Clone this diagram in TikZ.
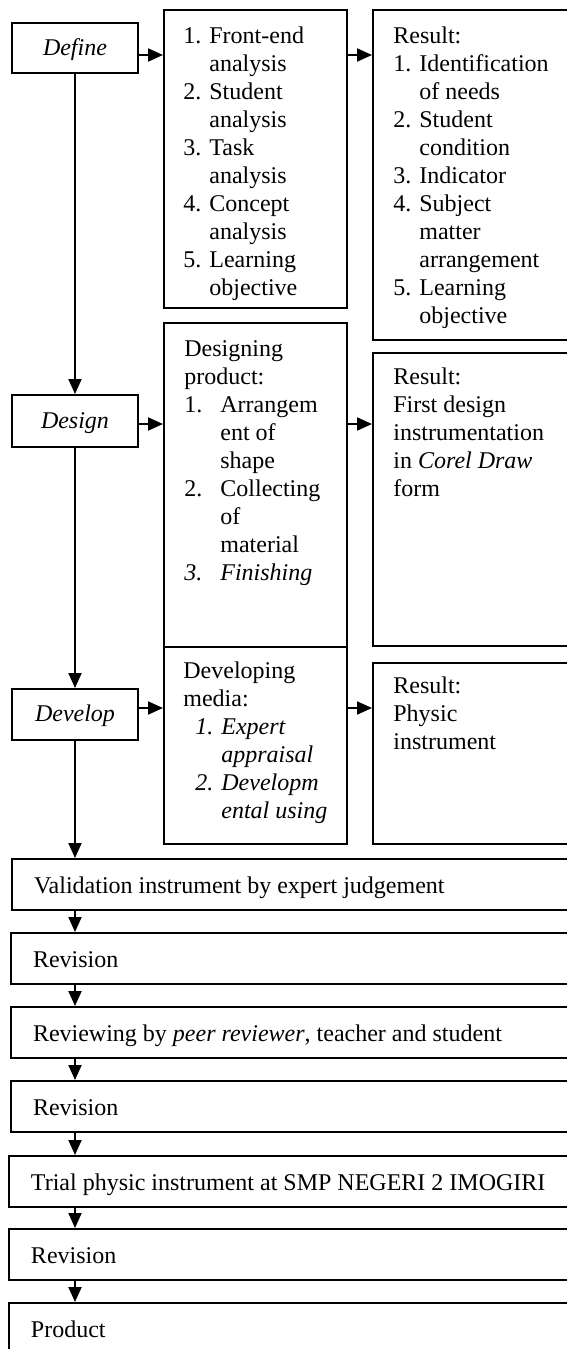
\documentclass[tikz,border=0pt]{standalone}
\usepackage{fontspec}
\setmainfont{Liberation Serif}
\usetikzlibrary{arrows.meta,calc}
\begin{document}
\begin{tikzpicture}[x=0.5pt,y=-0.5pt,
  box/.style={draw,line width=1pt,anchor=north west,inner sep=0pt},
  txt/.style={anchor=north west,inner sep=0pt,align=flush left,font=\fontsize{12pt}{14pt}\selectfont},
  stage/.style={box,minimum width=63pt,text height=10pt,text depth=3pt,font=\fontsize{12pt}{14pt}\selectfont\itshape},
  bar/.style={box,inner xsep=11pt,inner ysep=0pt,text width=270pt,align=flush left,minimum height=25.5pt,text height=11pt,text depth=2.5pt,font=\fontsize{12pt}{14pt}\selectfont},
  arr/.style={line width=1pt,-{Triangle[length=7.5pt,width=6.5pt]}}]
\useasboundingbox (0,0) rectangle (567,1349);
\clip (0,0) rectangle (567,1349);

% stage boxes
\node[stage,minimum height=25pt] (define) at (11,22) {Define};
\node[stage,minimum height=26pt] (design) at (11,394) {Design};
\node[stage,minimum height=25.5pt] (develop) at (11,688) {Develop};

% list and result boxes
\node[box,minimum width=91.5pt,minimum height=149pt] (l1) at (163,9) {};
\node[box,minimum width=105pt,minimum height=165pt] (r1) at (372,9) {};
\node[box,minimum width=91.5pt,minimum height=162pt] (l2) at (163,322) {};
\node[box,minimum width=105pt,minimum height=146.5pt] (r2) at (372,352) {};
\node[box,minimum width=91.5pt,minimum height=98.5pt] (l3) at (163,646) {};
\node[box,minimum width=105pt,minimum height=90.5pt] (r3) at (372,662) {};

% texts
\node[txt] (l1t) at (183,23.4) {\strut 1. Front-end\\\phantom{1. }analysis\\2. Student\\\phantom{1. }analysis\\3. Task\\\phantom{1. }analysis\\4. Concept\\\phantom{1. }analysis\\5. Learning\\\phantom{1. }objective};
\node[txt] (r1t) at (393,23.4) {\strut Result:\\1. Identification\\\phantom{1. }of needs\\2. Student\\\phantom{1. }condition\\3. Indicator\\4. Subject\\\phantom{1. }matter\\\phantom{1. }arrangement\\5. Learning\\\phantom{1. }objective};
\node[txt] (l2t) at (184,336.4) {\strut Designing\\product:\\\makebox[18pt][l]{1.}Arrangem\\\hspace*{18pt}ent of\\\hspace*{18pt}shape\\\makebox[18pt][l]{2.}Collecting\\\hspace*{18pt}of\\\hspace*{18pt}material\\\makebox[18pt][l]{\textit{3.}}\textit{Finishing}};
\node[txt] (r2t) at (393,364.4) {\strut Result:\\First design\\instrumentation\\in \textit{Corel Draw}\\form};
\node[txt] (l3t) at (183,658.4) {\strut Developing\\media:\\\hspace*{6pt}\textit{1. Expert}\\\hspace*{6pt}\textit{\phantom{1. }appraisal}\\\hspace*{6pt}\textit{2. Developm}\\\hspace*{6pt}\textit{\phantom{1. }ental using}};
\node[txt] (r3t) at (393,673.4) {\strut Result:\\Physic\\instrument};

% bottom bars
\node[bar] (valid) at (11,858) {Validation instrument by expert judgement};
\node[bar] (rev1) at (10,932) {Revision};
\node[bar] (review) at (10,1006) {Reviewing by \textit{peer reviewer}, teacher and student};
\node[bar] (rev2) at (10,1080) {Revision};
\node[bar] (trial) at (8,1155) {Trial physic instrument at SMP NEGERI 2 IMOGIRI};
\node[bar] (rev3) at (8,1228) {Revision};
\node[bar] (product) at (8,1302) {Product};

% helper coordinates
\coordinate (y1) at (0,55);
\coordinate (y2) at (0,424);
\coordinate (y3) at (0,708);
\coordinate (ax) at (75,0);

% spine
\draw[arr] (define) -- (design);
\draw[arr] (design) -- (develop);
\draw[arr] (develop.south) -- (valid.north -| develop.south);

% horizontal arrows
\draw[arr] (define.east |- y1) -- (l1.west |- y1);
\draw[arr] (l1.east |- y1) -- (r1.west |- y1);
\draw[arr] (design.east |- y2) -- (l2.west |- y2);
\draw[arr] (l2.east |- y2) -- (r2.west |- y2);
\draw[arr] (develop.east |- y3) -- (l3.west |- y3);
\draw[arr] (l3.east |- y3) -- (r3.west |- y3);

% bottom arrows
\draw[arr] (valid.south -| ax) -- (rev1.north -| ax);
\draw[arr] (rev1.south -| ax) -- (review.north -| ax);
\draw[arr] (review.south -| ax) -- (rev2.north -| ax);
\draw[arr] (rev2.south -| ax) -- (trial.north -| ax);
\draw[arr] (trial.south -| ax) -- (rev3.north -| ax);
\draw[arr] (rev3.south -| ax) -- (product.north -| ax);
\end{tikzpicture}
\end{document}
